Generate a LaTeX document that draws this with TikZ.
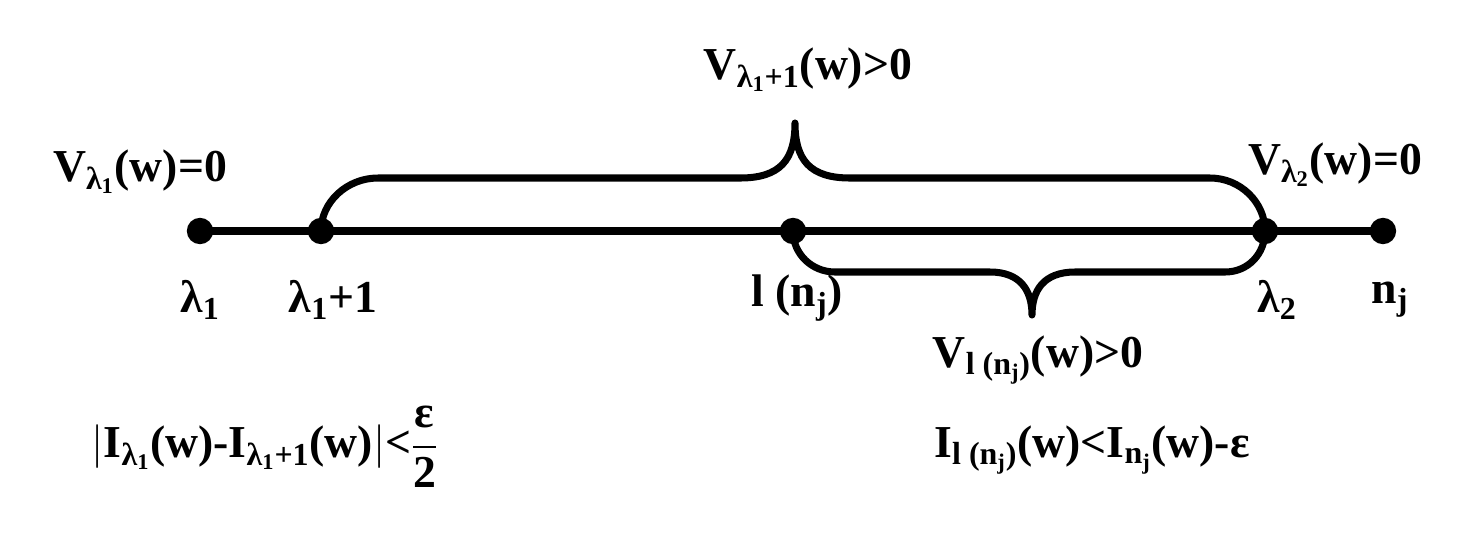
\documentclass[tikz,border=0pt]{standalone}
\usepackage{amsmath}
\usepackage{fontspec}
\setmainfont{Liberation Serif}
\begin{document}
\begin{tikzpicture}[x=0.02cm,y=-0.02cm,
  dotn/.style={circle,fill=black,inner sep=0pt,minimum size=15pt},
  lab/.style={font=\fontsize{26}{31}\selectfont\bfseries,inner sep=0pt},
  thickline/.style={line width=4pt}]
\useasboundingbox (0,0) rectangle (1470,542);
\node[dotn] (a) at (200,231) {};
\node[dotn] (b) at (321,231) {};
\node[dotn] (c) at (793,231) {};
\node[dotn] (d) at (1265,231) {};
\node[dotn] (e) at (1383,231) {};
\draw[thickline] (a.center) -- (e.center);
\coordinate (ut) at (795,123);
\coordinate (lt) at (1032,315);
\draw[thickline,line join=round] (b.center) .. controls (321,202) and (347,178) .. (378,178) -- (740,178) .. controls (780,178) and (795,160) .. (ut)
  .. controls (795,160) and (810,178) .. (850,178) -- (1210,178) .. controls (1240,178) and (1265,202) .. (d.center);
\draw[thickline,line join=round] (c.center) .. controls (793,254) and (812,272) .. (835,272) -- (990,272) .. controls (1020,272) and (1032,290) .. (lt)
  .. controls (1032,290) and (1044,272) .. (1075,272) -- (1225,272) .. controls (1248,272) and (1265,254) .. (d.center);
\node[lab] (l1) at (200,300) {λ\textsubscript{1}};
\node[lab] (l2) at (333,300) {λ\textsubscript{1}+1};
\node[lab] (l3) at (797,298) {l (n\textsubscript{j})};
\node[lab] (l4) at (1277,300) {λ\textsubscript{2}};
\node[lab] (l5) at (1390,300) {n\textsubscript{j}};
\node[lab] (v1) at (140,172) {V\textsubscript{λ\textsubscript{1}}(w)=0};
\node[lab] (v2) at (808,70) {V\textsubscript{λ\textsubscript{1}+1}(w)>0};
\node[lab] (v3) at (1335,165) {V\textsubscript{λ\textsubscript{2}}(w)=0};
\node[lab] (v4) at (1038,360) {V\textsubscript{l (n\textsubscript{j})}(w)>0};
\node[lab] (f1) at (265,447) {$\left|\mbox{I\textsubscript{λ\textsubscript{1}}(w)-I\textsubscript{λ\textsubscript{1}+1}(w)}\right|$<$\dfrac{\mbox{ε}}{\mbox{2}}$};
\node[lab] (f2) at (1092,450) {I\textsubscript{l (n\textsubscript{j})}(w)<I\textsubscript{n\textsubscript{j}}(w)-ε};
\end{tikzpicture}
\end{document}
